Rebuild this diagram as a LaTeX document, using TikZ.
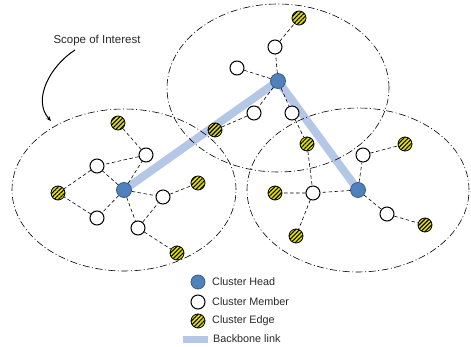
\documentclass[tikz,border=0pt]{standalone}
\usepackage{fontspec}
\setmainfont{Liberation Sans}
\usetikzlibrary{patterns.meta,arrows.meta}
\pgfdeclarelayer{bg}
\pgfsetlayers{bg,main}
\definecolor{headfill}{RGB}{79,129,189}
\definecolor{headline}{RGB}{56,93,138}
\definecolor{bbone}{RGB}{180,199,231}
\definecolor{edgey}{RGB}{225,225,0}
\definecolor{txt}{RGB}{40,40,40}
\tikzset{
 head/.style={circle,draw=headline,fill=headfill,line width=0.8pt,minimum size=15pt,inner sep=0pt},
 member/.style={circle,draw=black,fill=white,line width=1pt,minimum size=14pt,inner sep=0pt},
 edgenode/.style={circle,draw=black,line width=0.8pt,minimum size=14pt,inner sep=0pt,
   preaction={fill=edgey},pattern={Lines[angle=45,distance=3pt,line width=1.1pt]}},
 link/.style={dash pattern=on 3.5pt off 2.5pt,line width=0.6pt},
 scopeline/.style={dash pattern=on 7pt off 2.5pt on 1pt off 2.5pt,line width=0.6pt},
 backbone/.style={line width=8pt,draw=bbone},
 lbl/.style={font=\fontsize{10.8}{13}\selectfont,text=txt,anchor=west,inner sep=0pt}
}
\begin{document}
\begin{tikzpicture}[x=1pt,y=-1pt]
\useasboundingbox (0,0) rectangle (471,347);
% scopes
\draw[scopeline] (124,190) ellipse [x radius=112pt,y radius=81pt];
\draw[scopeline] (278,88) ellipse [x radius=111pt,y radius=84pt];
\draw[scopeline] (358,190) ellipse [x radius=111pt,y radius=82pt];
% heads
\node[head] (hL) at (124,190) {};
\node[head] (hT) at (278,81) {};
\node[head] (hR) at (358,190) {};
% top cluster
\node[edgenode] (t1) at (299,18) {};
\node[member] (t2) at (275,47) {};
\node[member] (t3) at (237,68) {};
\node[member] (t4) at (254,113) {};
\node[member] (t5) at (292,113) {};
\node[edgenode] (t6) at (307,144) {};
\node[edgenode] (t7) at (215,130) {};
% right cluster
\node[member] (r1) at (363,155) {};
\node[edgenode] (r2) at (405,144) {};
\node[member] (r3) at (313,193) {};
\node[edgenode] (r4) at (275,193) {};
\node[edgenode] (r5) at (296,236) {};
\node[member] (r6) at (387,214) {};
\node[edgenode] (r7) at (425,225) {};
% left cluster
\node[member] (l1) at (146,155) {};
\node[edgenode] (l2) at (118,123) {};
\node[member] (l3) at (97,166) {};
\node[edgenode] (l4) at (58,193) {};
\node[member] (l5) at (97,218) {};
\node[member] (l6) at (163,197) {};
\node[edgenode] (l7) at (198,183) {};
\node[member] (l8) at (138,228) {};
\node[edgenode] (l9) at (177,253) {};
\begin{pgfonlayer}{bg}
\draw[backbone] (hL.center) -- (hT.center) -- (hR.center);
\end{pgfonlayer}
% links
\draw[link] (hT) -- (t2) (t2) -- (t1) (hT) -- (t3) (hT) -- (t4) (t4) -- (t7)
  (hT) -- (t5) (t5) -- (t6) (t6) -- (r3);
\draw[link] (hR) -- (r1) (r1) -- (r2) (hR) -- (r3) (r3) -- (r4) (r3) -- (r5)
  (hR) -- (r6) (r6) -- (r7);
\draw[link] (hL) -- (l1) (l1) -- (l2) (l1) -- (l3) (hL) -- (l3) (l3) -- (l4)
  (hL) -- (l5) (l5) -- (l4) (hL) -- (l6) (l6) -- (l7) (hL) -- (l8) (l8) -- (l6)
  (l8) -- (l9);
% label
\node[font=\fontsize{11.5}{13}\selectfont,text=txt] (soi) at (97,41) {Scope of Interest};
\coordinate (a0) at (75,50);
\coordinate (a1) at (51,121);
\draw[line width=1pt,-{Stealth[length=5pt,width=4pt]}] (a0) .. controls (50,66) and (32,100) .. (a1);
% legend
\node[head,minimum size=14pt] (gH) at (198,282) {};
\node[lbl] (gHt) at (212,282) {Cluster Head};
\node[member] (gM) at (198,302) {};
\node[lbl] (gMt) at (212,302) {Cluster Member};
\node[edgenode] (gE) at (198,321) {};
\node[lbl] (gEt) at (212,321) {Cluster Edge};
\node[fill=bbone,minimum width=25pt,minimum height=7pt,inner sep=0pt] (gB) at (195.5,339) {};
\node[lbl] (gBt) at (213,339) {Backbone link};
\end{tikzpicture}
\end{document}
